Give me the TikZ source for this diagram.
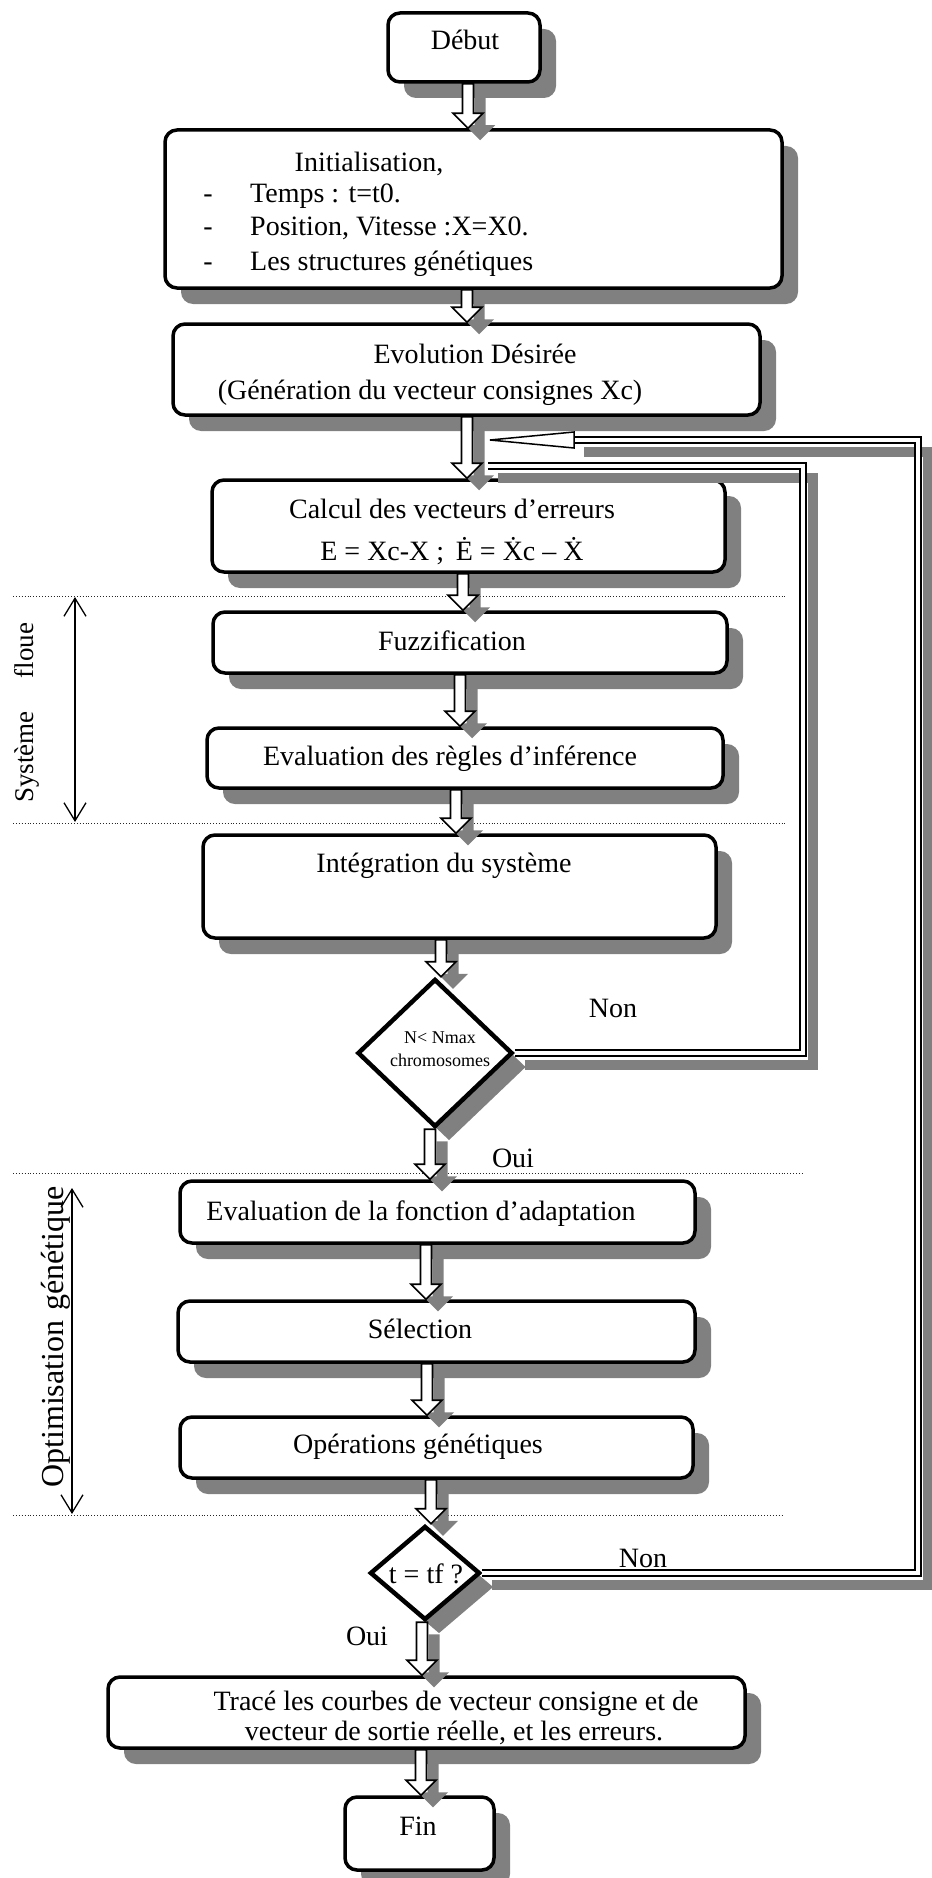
\documentclass[tikz,border=0pt]{standalone}
\usepackage{fontspec}
\setmainfont{Liberation Serif}
\usetikzlibrary{shapes.geometric,shadows,calc,arrows.meta}

\definecolor{shadowc}{gray}{0.5}

% X with a dot above (time derivative): precomposed glyph when the font has it
\newsavebox\accbox
\newcommand\dotacc[1]{\sbox\accbox{#1}\makebox[0pt][l]{\makebox[\wd\accbox]{\raisebox{0.70em}{.}}}\usebox\accbox}
\newcommand\Xdot{\iffontchar\font"1E8A \char"1E8A\relax\else\dotacc{X}\fi}

% outline of a downward block arrow: shaft from #1, tip at the height of #2
\newcommand\blockarrow[2]{let \p1=(#1), \p2=(#2) in
  (\x1-5.5pt,\y1) -- (\x1-5.5pt,\y2+15pt) -- (\x1-15pt,\y2+15pt) -- (\x1,\y2)
  -- (\x1+15pt,\y2+15pt) -- (\x1+5.5pt,\y2+15pt) -- (\x1+5.5pt,\y1) -- cycle}

\tikzset{
  box/.style={draw, line width=3.5pt, rounded corners=12pt, fill=white, inner sep=0pt,
    general shadow={shadow xshift=16pt, shadow yshift=-16pt, fill=shadowc}},
  dia/.style={diamond, draw, line width=4.5pt, fill=white, inner sep=0pt,
    general shadow={shadow xshift=14pt, shadow yshift=-14pt, fill=shadowc}},
  txt/.style={inner sep=0pt, anchor=base, font=\fontsize{28pt}{32pt}\selectfont},
  txtl/.style={txt, anchor=base west},
  small/.style={inner sep=0pt, anchor=base, font=\fontsize{18pt}{21pt}\selectfont},
  arrowshade/.style={fill=shadowc, transform canvas={shift={(12pt,-12pt)}}},
  arrowbody/.style={fill=white, draw=black, line width=1.6pt, line join=miter},
  loopline/.style={draw=black, line width=1.8pt, double=white, double distance=4.5pt, line join=miter},
  loopshade/.style={draw=shadowc, line width=10pt, line join=miter, transform canvas={shift={(10pt,-12pt)}}},
  headbody/.style={fill=white, draw=black, line width=1.5pt, line join=miter},
  sep/.style={dotted, line width=0.9pt, black!85},
  dim/.style={line width=1.3pt, <->, >={Straight Barb[length=18pt,width=22pt]}},
}

\begin{document}
\begin{tikzpicture}[x=1pt, y=-1pt]
\fill[white] (0,0) rectangle (931,1878);
\useasboundingbox (0,0) rectangle (931,1878);

% separators of the two stages
\coordinate (s1a) at (13,596);  \coordinate (s1b) at (785,596);
\coordinate (s2a) at (13,823);  \coordinate (s2b) at (785,823);
\coordinate (s3a) at (13,1173); \coordinate (s3b) at (802,1173);
\coordinate (s4a) at (13,1515); \coordinate (s4b) at (783,1515);
\draw[sep] (s1a) -- (s1b);
\draw[sep] (s2a) -- (s2b);
\draw[sep] (s3a) -- (s3b);
\draw[sep] (s4a) -- (s4b);

% stage extents
\coordinate (f1) at (75,597);  \coordinate (f2) at (75,822);
\coordinate (g1) at (72,1188); \coordinate (g2) at (72,1514);
\draw[dim] (f1) -- (f2);
\draw[dim] (g1) -- (g2);
\node[rotate=90, inner sep=0pt, font=\fontsize{27pt}{30pt}\selectfont] (lsys) at (27,713) {Système\hspace{33pt}floue};
\node[rotate=90, inner sep=0pt, font=\fontsize{32pt}{36pt}\selectfont] (lopt) at (56,1337) {Optimisation\hspace{10pt}génétique};

% boxes
\node[box, minimum width=152pt, minimum height=69pt] (debut) at (464,47.5) {};
\node[box, minimum width=617pt, minimum height=158pt] (init) at (473.5,209) {};
\node[box, minimum width=587pt, minimum height=91pt] (evol) at (466.5,369.5) {};
\node[box, minimum width=513pt, minimum height=92pt] (calc) at (468.5,526) {};
\node[box, minimum width=514pt, minimum height=61pt] (fuzz) at (470,642.5) {};
\node[box, minimum width=516pt, minimum height=60pt] (regl) at (465,758) {};
\node[box, minimum width=513pt, minimum height=103pt] (integ) at (459.5,886.5) {};
\node[dia, minimum width=155pt, minimum height=148pt] (d1) at (435,1053) {};
\node[box, minimum width=515pt, minimum height=62pt] (adapt) at (437.5,1212) {};
\node[box, minimum width=517pt, minimum height=61pt] (sel) at (436.5,1331.5) {};
\node[box, minimum width=513pt, minimum height=61pt] (oper) at (436.5,1447.5) {};
\node[dia, minimum width=110pt, minimum height=94pt] (d2) at (425,1573) {};
\node[box, minimum width=637pt, minimum height=71pt] (trace) at (426.5,1712.5) {};
\node[box, minimum width=149pt, minimum height=73pt] (fin) at (419.5,1833.5) {};

% feedback loops
\coordinate (c1) at (803,466); \coordinate (j1) at (488,466);
\coordinate (c2) at (918,440); \coordinate (j2) at (574,440); \coordinate (tip2) at (490,440);
\draw[loopshade] (d2.east) -| (c2) -- (j2);
\draw[loopshade] (d1.east) -| (c1) -- (j1);
\draw[loopline] (d2.east) -| (c2) -- (j2);
\draw[headbody] ([yshift=8pt]j2) -- (tip2) -- ([yshift=-8pt]j2) -- cycle;
\draw[loopline] (d1.east) -| (c1) -- (j1);

% main flow arrows
\foreach \a/\s/\b in {debut/4/init, init/-6.5/evol, evol/0.5/calc, calc/-5.5/fuzz,
    fuzz/-10/regl, regl/-9/integ, integ/-18.5/d1, d1/-5/adapt, adapt/-11.5/sel,
    sel/-9.5/oper, oper/-5.5/d2, d2/-3/trace, trace/-5.5/fin}{
  \fill[arrowshade] \blockarrow{[xshift=\s pt]\a.south}{\b.north};
}
\foreach \a/\s/\b in {debut/4/init, init/-6.5/evol, evol/0.5/calc, calc/-5.5/fuzz,
    fuzz/-10/regl, regl/-9/integ, integ/-18.5/d1, d1/-5/adapt, adapt/-11.5/sel,
    sel/-9.5/oper, oper/-5.5/d2, d2/-3/trace, trace/-5.5/fin}{
  \path[arrowbody] \blockarrow{[xshift=\s pt]\a.south}{\b.north};
}

% texts
\node[txt] (tdebut) at (465,50) {Début};
\node[txt] (tinit) at (369,172) {Initialisation,};
\node[txt] (dash1) at (208,203) {-};
\node[txt] (dash2) at (208,236) {-};
\node[txt] (dash3) at (208,270) {-};
\node[txtl] (tinit1) at (250,203) {Temps : t=t0.};
\node[txtl] (tinit2) at (250,236) {Position, Vitesse :X=X0.};
\node[txtl] (tinit3) at (250,270) {Les structures génétiques};
\node[txt] (tevol1) at (475,363) {Evolution Désirée};
\node[txt] (tevol2) at (430,399) {(Génération du vecteur consignes Xc)};
\node[txt] (tcalc1) at (452,518) {Calcul des vecteurs d’erreurs};
\node[txt] (tcalc2) at (452,560) {E = Xc-X ;\, Ė = \Xdot c – \Xdot};
\node[txt] (tfuzz) at (452,650) {Fuzzification};
\node[txt] (tregl) at (450,765) {Evaluation des règles d’inférence};
\node[txt] (tinteg) at (444,872) {Intégration du système};
\node[small] (td1a) at (440,1043) {N< Nmax};
\node[small] (td1b) at (440,1066) {chromosomes};
\node[txt] (non1) at (613,1017) {Non};
\node[txt] (oui1) at (513,1167) {Oui};
\node[txt] (tadapt) at (421,1220) {Evaluation de la fonction d’adaptation};
\node[txt] (tsel) at (420,1338) {Sélection};
\node[txt] (toper) at (418,1453) {Opérations génétiques};
\node[txt] (td2) at (426,1583) {t = tf ?};
\node[txt] (non2) at (643,1567) {Non};
\node[txt] (oui2) at (367,1645) {Oui};
\node[txt] (ttrace1) at (456,1710) {Tracé les courbes de vecteur consigne et de};
\node[txt] (ttrace2) at (454,1740) {vecteur de sortie réelle, et les erreurs.};
\node[txt] (tfin) at (418,1835) {Fin};
\end{tikzpicture}
\end{document}
